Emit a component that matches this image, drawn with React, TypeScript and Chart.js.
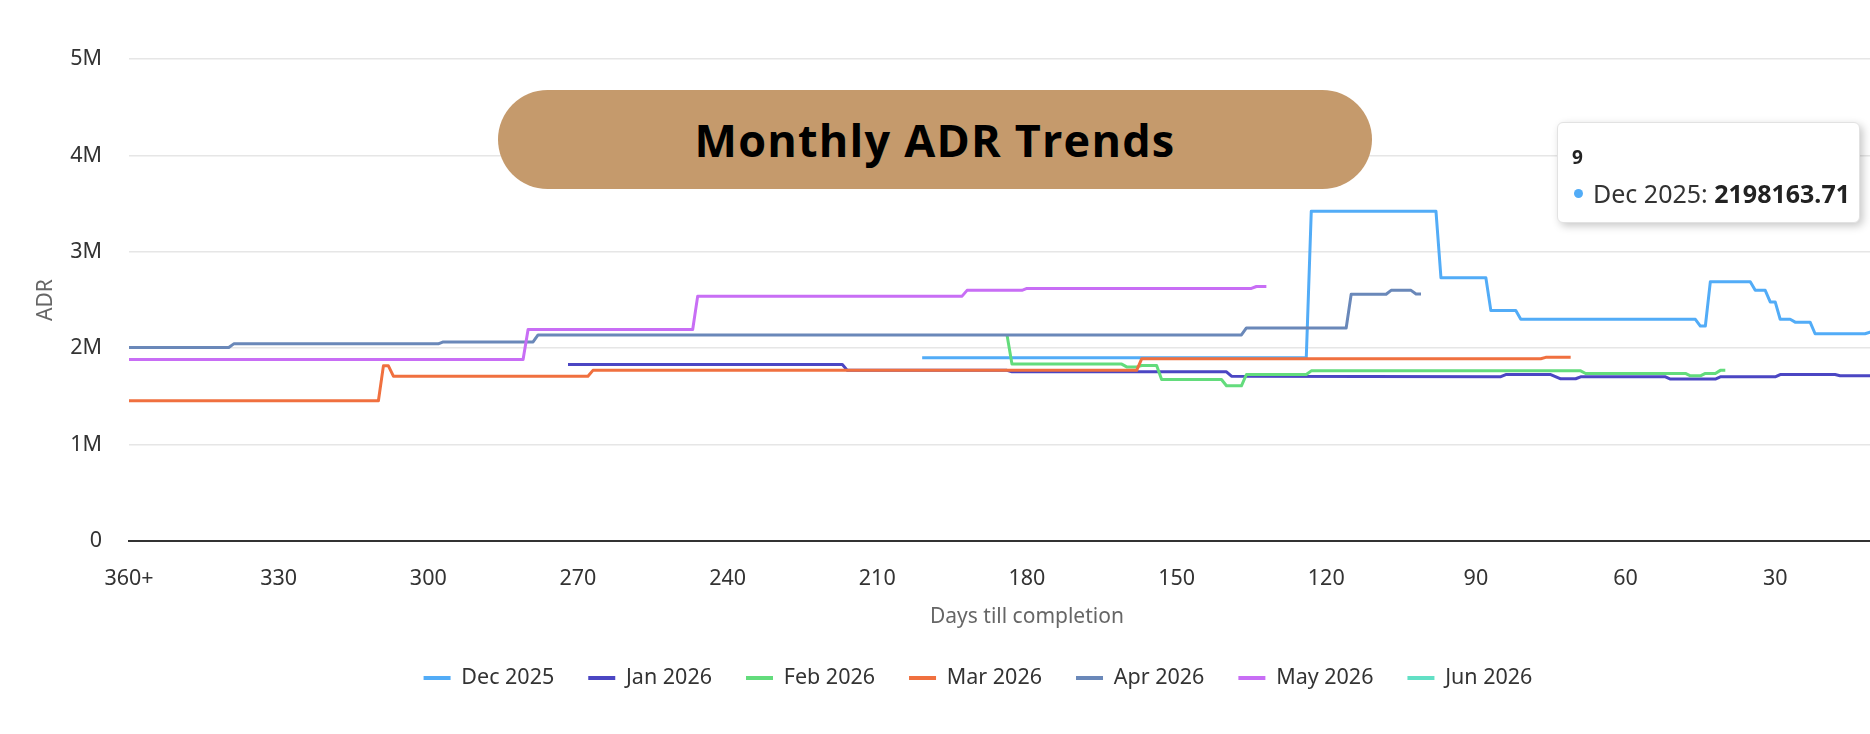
import React, { useEffect, useRef } from 'react';
import { Chart, registerables } from 'chart.js';

Chart.register(...registerables);

// ---------- data ----------
const seriesNames = ['Dec 2025', 'Jan 2026', 'Feb 2026', 'Mar 2026', 'Apr 2026', 'May 2026', 'Jun 2026'];
const seriesColors = ['#52ACF7', '#4B46C3', '#63DC7C', '#F0703F', '#6A88B9', '#C86EF5', '#62E0C5'];

// x = days till completion, y = ADR
const decDays = [201, 124, 123, 98, 97, 88, 87, 82, 81, 46, 45, 44, 43, 35, 34, 32, 31, 30, 29, 27, 26, 23, 22, 12, 9];
const decValues = [1900000, 1900000, 3420000, 3420000, 2730000, 2730000, 2390000, 2390000, 2300000, 2300000, 2230000, 2230000, 2690000, 2690000, 2600000, 2600000, 2480000, 2480000, 2300000, 2300000, 2270000, 2270000, 2150000, 2150000, 2198163.71];

const janDays = [272, 217, 216, 184, 183, 140, 139, 85, 84, 75, 73, 70, 69, 52, 51, 42, 41, 30, 29, 18, 17, 10];
const janValues = [1830000, 1830000, 1770000, 1770000, 1755000, 1755000, 1710000, 1705000, 1727000, 1727000, 1683000, 1683000, 1703000, 1703000, 1680000, 1680000, 1703000, 1703000, 1727000, 1727000, 1715000, 1715000];

const febDays = [184, 183, 161, 160, 158, 157, 154, 153, 141, 140, 137, 136, 124, 123, 69, 68, 48, 47, 45, 44, 42, 41, 40];
const febValues = [2140000, 1835000, 1835000, 1806000, 1806000, 1820000, 1820000, 1675000, 1675000, 1610000, 1610000, 1727000, 1727000, 1765000, 1765000, 1738000, 1738000, 1713000, 1713000, 1738000, 1738000, 1770000, 1770000];

const marDays = [360, 310, 309, 308, 307, 268, 267, 158, 157, 77, 76, 71];
const marValues = [1454000, 1454000, 1817000, 1817000, 1710000, 1710000, 1770000, 1770000, 1890000, 1890000, 1905000, 1905000];

const aprDays = [360, 340, 339, 298, 297, 279, 278, 137, 136, 116, 115, 108, 107, 103, 102, 101];
const aprValues = [2007000, 2007000, 2045000, 2045000, 2065000, 2065000, 2138000, 2138000, 2210000, 2210000, 2560000, 2560000, 2600000, 2600000, 2563000, 2563000];

const mayDays = [360, 281, 280, 247, 246, 193, 192, 181, 180, 135, 134, 132];
const mayValues = [1883000, 1883000, 2194000, 2194000, 2540000, 2540000, 2600000, 2600000, 2620000, 2620000, 2640000, 2640000];

const junDays: number[] = [];
const junValues: number[] = [];

const seriesDays = [decDays, janDays, febDays, marDays, aprDays, mayDays, junDays];
const seriesValues = [decValues, janValues, febValues, marValues, aprValues, mayValues, junValues];

const xMin = 0;
const xMax = 360;
const xStep = 30;
const xMaxLabel = '360+';
const yMax = 5000000;
const yStep = 1000000;

const chartTitle = 'Monthly ADR Trends';
const xTitle = 'Days till completion';
const yTitle = 'ADR';

const tooltipSeries = 0;
const tooltipDay = 9;

// ---------- component ----------
const FONT = "'Noto Sans', 'DejaVu Sans', sans-serif";

export default function App() {
  const canvasRef = useRef<HTMLCanvasElement>(null);

  useEffect(() => {
    if (!canvasRef.current) return;
    Chart.defaults.font.family = FONT;
    const datasets = seriesNames.map((name, i) => ({
      label: name,
      data: seriesDays[i].map((d, j) => ({ x: d, y: seriesValues[i][j] })),
      borderColor: seriesColors[i],
      backgroundColor: seriesColors[i],
      borderWidth: 3,
      pointRadius: 0,
      pointHoverRadius: 0,
      tension: 0,
      fill: false,
      borderJoinStyle: 'round' as const,
      order: seriesNames.length - 1 - i,
    }));

    const chart = new Chart(canvasRef.current, {
      type: 'line',
      data: { datasets },
      options: {
        animation: false,
        responsive: true,
        maintainAspectRatio: false,
        events: [],
        layout: { padding: { top: 59, left: 0, right: 0, bottom: 35.25 } },
        scales: {
          x: {
            type: 'linear',
            reverse: true,
            min: xMin,
            max: xMax,
            grid: { display: false, drawTicks: false },
            border: { display: true, color: '#333333', width: 2 },
            ticks: {
              stepSize: xStep,
              padding: 25,
              color: '#333333',
              font: { size: 21.5 },
              maxRotation: 0,
              autoSkip: false,
              callback: (v: any) => (v === xMax ? xMaxLabel : String(v)),
            },
            title: {
              display: true,
              text: xTitle,
              color: '#666666',
              font: { size: 21 },
              padding: { top: 0, bottom: 4 },
            },
            afterFit: (s: any) => {
              s.height = 92.25;
            },
          },
          y: {
            type: 'linear',
            min: 0,
            max: yMax,
            grid: { color: '#E6E6E6', lineWidth: 1.5, drawTicks: false },
            border: { display: false },
            ticks: {
              stepSize: yStep,
              padding: 27,
              color: '#333333',
              font: { size: 21.5 },
              callback: (v: any) => (v === 0 ? '0' : v / 1000000 + 'M'),
            },
            title: {
              display: true,
              text: yTitle,
              color: '#666666',
              font: { size: 21 },
              padding: { top: 33.4, bottom: 0 },
            },
            afterFit: (s: any) => {
              s.width = 129;
            },
          },
          y2: {
            type: 'linear',
            position: 'right',
            display: true,
            grid: { display: false, drawTicks: false },
            border: { display: false },
            ticks: { display: false },
            afterFit: (s: any) => {
              s.width = 20;
            },
          },
        },
        plugins: {
          legend: {
            position: 'bottom',
            labels: {
              boxWidth: 27,
              boxHeight: 4,
              padding: 34,
              color: '#333333',
              font: { size: 21.5 },
              sort: (a: any, b: any) => a.datasetIndex - b.datasetIndex,
              generateLabels: (c: any) =>
                (Chart.defaults.plugins.legend.labels.generateLabels as any)(c).map((l: any) => ({
                  ...l,
                  lineWidth: 0,
                })),
            },
          },
          tooltip: { enabled: false },
        },
      } as any,
    });
    return () => chart.destroy();
  }, []);

  const tipIdx = seriesDays[tooltipSeries].indexOf(tooltipDay);
  const tipValue = tipIdx >= 0 ? seriesValues[tooltipSeries][tipIdx] : null;

  return (
    <div
      style={{
        position: 'fixed',
        left: 0,
        top: 0,
        width: 1870,
        height: 734,
        overflow: 'hidden',
        background: '#ffffff',
      }}
    >
      <div style={{ position: 'relative', width: 1956, height: 734 }}>
        <canvas ref={canvasRef} />
        <div
          style={{
            position: 'absolute',
            left: 498,
            top: 90,
            width: 874,
            height: 99,
            borderRadius: 50,
            background: '#C59A6C',
            display: 'flex',
            alignItems: 'center',
            justifyContent: 'center',
            fontFamily: "'Open Sans', 'Noto Sans', sans-serif",
            fontWeight: 700,
            fontSize: 45,
            letterSpacing: 1.2,
            color: '#000000',
            whiteSpace: 'nowrap',
          }}
        >
          {chartTitle}
        </div>
        <div
          style={{
            position: 'absolute',
            left: 1557,
            top: 122,
            width: 303,
            height: 101,
            boxSizing: 'border-box',
            background: '#ffffff',
            border: '1px solid #e2e2e2',
            borderRadius: 6,
            boxShadow: '3px 3px 8px rgba(0,0,0,0.22)',
            fontFamily: FONT,
            color: '#333333',
          }}
        >
          <div
            style={{
              position: 'absolute',
              left: 14,
              top: 24,
              fontSize: 19,
              lineHeight: '20px',
              fontWeight: 700,
              color: '#222222',
            }}
          >
            {tooltipDay}
          </div>
          <div
            style={{
              position: 'absolute',
              left: 16,
              top: 55,
              height: 30,
              display: 'flex',
              alignItems: 'center',
              fontSize: 25,
              lineHeight: '30px',
              whiteSpace: 'nowrap',
            }}
          >
            <span
              style={{
                display: 'inline-block',
                width: 9,
                height: 9,
                borderRadius: '50%',
                background: seriesColors[tooltipSeries],
                marginRight: 10,
              }}
            />
            <span>{seriesNames[tooltipSeries]}:&nbsp;</span>
            <span style={{ fontWeight: 700, color: '#222222' }}>{tipValue}</span>
          </div>
        </div>
      </div>
    </div>
  );
}
